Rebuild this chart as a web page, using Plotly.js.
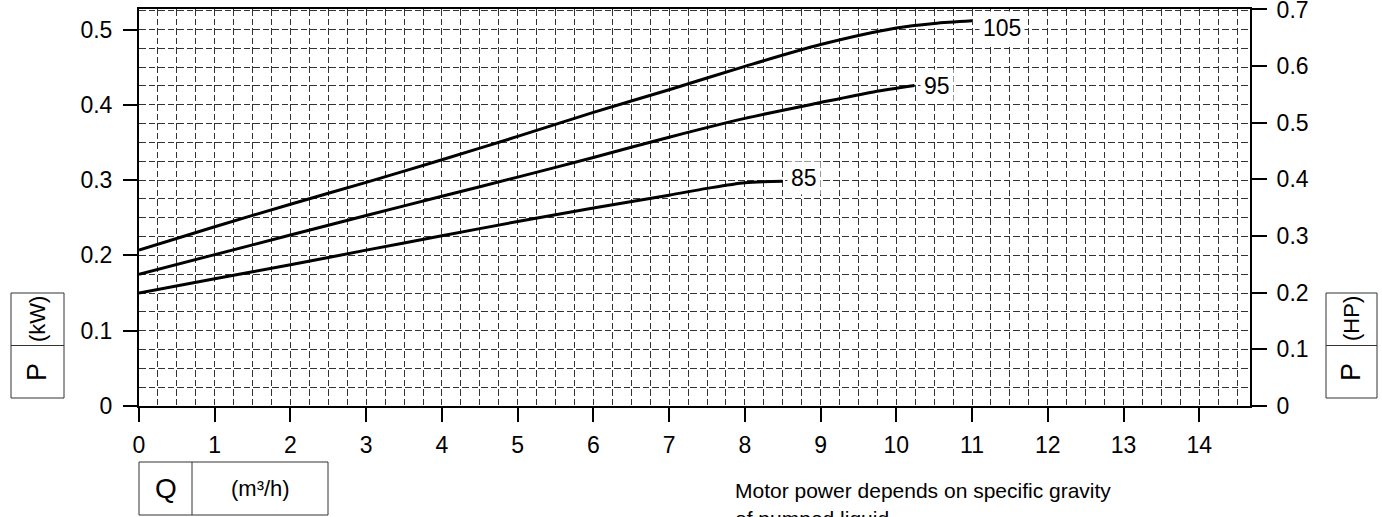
<!DOCTYPE html>
<html>
<head>
<meta charset="utf-8">
<script src="https://cdn.plot.ly/plotly-3.0.1.min.js"></script>
<style>
html,body{margin:0;padding:0;background:#fff;}
#chart{width:1382px;height:517px;}
</style>
</head>
<body>
<div id="chart"></div>
<script>
// ---- data ----
const q105 = [0, 1, 2, 3, 4, 5, 6, 7, 8, 9, 10, 10.5, 11];
const p105 = [0.207, 0.238, 0.268, 0.297, 0.327, 0.358, 0.390, 0.420, 0.451, 0.480, 0.502, 0.508, 0.5115];
const q95 = [0, 1, 2, 3, 4, 5, 6, 7, 8, 9, 9.7, 10.24];
const p95 = [0.175, 0.201, 0.227, 0.253, 0.2785, 0.304, 0.330, 0.357, 0.382, 0.403, 0.417, 0.4255];
const q85 = [0, 1, 2, 3, 4, 5, 6, 7, 7.5, 8, 8.5];
const p85 = [0.150, 0.169, 0.1875, 0.207, 0.226, 0.245, 0.263, 0.280, 0.289, 0.2965, 0.2985];
const curveLabels = ["105", "95", "85"];
const xTicks = [0,1,2,3,4,5,6,7,8,9,10,11,12,13,14];
const yTicksKW = [0, 0.1, 0.2, 0.3, 0.4, 0.5];
const yTicksKWText = ["0", "0.1", "0.2", "0.3", "0.4", "0.5"];
const yTicksHP = [0, 0.1, 0.2, 0.3, 0.4, 0.5, 0.6, 0.7];
const yTicksHPText = ["0", "0.1", "0.2", "0.3", "0.4", "0.5", "0.6", "0.7"];
const leftUnitText = ["P", "(kW)"];
const rightUnitText = ["P", "(HP)"];
const bottomUnitText = ["Q", "(m³/h)"];
const noteLines = ["Motor power depends on specific gravity", "of pumped liquid"];

// ---- layout helpers ----
const FONT = "'Liberation Sans', Arial, sans-serif";
const W = 1382, H = 517;
const M = {l: 139, r: 132, t: 9, b: 111};
const PW = W - M.l - M.r, PH = H - M.t - M.b;
const px = x => (x - M.l) / PW;
const py = y => (H - M.b - y) / PH;
const GRID = '#333';
const DASH = '6.5px,3px';

const lineStyle = {color: 'black', width: 3, shape: 'spline', smoothing: 0.8};
const traces = [
  {x: q105, y: p105, mode: 'lines', line: lineStyle, hoverinfo: 'skip', showlegend: false},
  {x: q95, y: p95, mode: 'lines', line: lineStyle, hoverinfo: 'skip', showlegend: false},
  {x: q85, y: p85, mode: 'lines', line: lineStyle, hoverinfo: 'skip', showlegend: false},
  {x: [0], y: [0], yaxis: 'y2', mode: 'markers', marker: {opacity: 0}, hoverinfo: 'skip', showlegend: false}
];

function box(x0, y0, x1, y1) {
  return {type: 'rect', xref: 'paper', yref: 'paper', x0: px(x0), x1: px(x1), y0: py(y1), y1: py(y0),
          line: {color: '#333', width: 1}, fillcolor: 'rgba(0,0,0,0)'};
}
function seg(x0, y0, x1, y1) {
  return {type: 'line', xref: 'paper', yref: 'paper', x0: px(x0), x1: px(x1), y0: py(y0), y1: py(y1),
          line: {color: '#333', width: 1}};
}
function txt(text, x, y, size, angle, anchorX) {
  return {text: text, xref: 'paper', yref: 'paper', x: px(x), y: py(y), showarrow: false,
          textangle: angle || 0, xanchor: anchorX || 'center', yanchor: 'middle', borderpad: 0,
          font: {family: FONT, size: size, color: 'black'}};
}

const ends = [
  [q105[q105.length-1], p105[p105.length-1], 7, -7],
  [q95[q95.length-1], p95[p95.length-1], 5, 0],
  [q85[q85.length-1], p85[p85.length-1], 4, 3]
];
const annotations = ends.map((e, i) => ({
  text: curveLabels[i], x: e[0], y: e[1], xref: 'x', yref: 'y', showarrow: false,
  xanchor: 'left', yanchor: 'middle', xshift: e[2], yshift: e[3],
  bgcolor: 'white', borderpad: 3,
  font: {family: FONT, size: 23, color: 'black'}
}));
annotations.push(
  txt(leftUnitText[0], 37, 372, 27, -90), txt(leftUnitText[1], 37, 319, 22, -90),
  txt(rightUnitText[0], 1351, 372, 27, -90), txt(rightUnitText[1], 1351, 319, 22, -90),
  txt(bottomUnitText[0], 166, 488, 28, 0), txt(bottomUnitText[1], 260, 488, 22, 0),
  txt(noteLines[0], 734, 490, 21, 0, 'left'), txt(noteLines[1], 734, 518, 21, 0, 'left')
);

const shapes = [
  box(11, 293, 64, 398), seg(11, 345.5, 64, 345.5),
  box(1326, 293, 1377, 398), seg(1326, 345.5, 1377, 345.5),
  box(139, 462, 328, 515), seg(192, 462, 192, 515)
];

const tickFont = {family: FONT, size: 23, color: 'black'};
const layout = {
  width: W, height: H, margin: M,
  paper_bgcolor: 'white', plot_bgcolor: 'white',
  showlegend: false,
  xaxis: {
    range: [0, 14.67], tickvals: xTicks, ticktext: xTicks.map(String),
    ticks: 'outside', ticklen: 14, tickwidth: 2, tickcolor: 'black',
    showline: true, linewidth: 2, linecolor: 'black', mirror: true,
    showgrid: true, gridcolor: GRID, gridwidth: 1, griddash: DASH,
    minor: {dtick: 0.25, tick0: 0, showgrid: true, gridcolor: GRID, gridwidth: 1, griddash: DASH, ticks: ''},
    zeroline: false, tickfont: tickFont, ticklabelstandoff: 3, fixedrange: true
  },
  yaxis: {
    range: [0, PH / 753], tickvals: yTicksKW, ticktext: yTicksKWText,
    ticks: 'outside', ticklen: 14, tickwidth: 2, tickcolor: 'black',
    showline: true, linewidth: 2, linecolor: 'black',
    showgrid: true, gridcolor: GRID, gridwidth: 1, griddash: DASH,
    minor: {dtick: 0.025, tick0: 0, showgrid: true, gridcolor: GRID, gridwidth: 1, griddash: DASH, ticks: ''},
    zeroline: false, tickfont: tickFont, ticklabelstandoff: 6, fixedrange: true
  },
  yaxis2: {
    overlaying: 'y', side: 'right', range: [0, 0.7008],
    tickvals: yTicksHP, ticktext: yTicksHPText, ticklabeloverflow: 'allow',
    ticks: 'outside', ticklen: 15, tickwidth: 2, tickcolor: 'black',
    showline: true, linewidth: 2, linecolor: 'black',
    showgrid: false, zeroline: false, tickfont: tickFont, ticklabelstandoff: 5, fixedrange: true
  },
  annotations: annotations,
  shapes: shapes
};

Plotly.newPlot('chart', traces, layout, {displayModeBar: false, staticPlot: true});
</script>
</body>
</html>
